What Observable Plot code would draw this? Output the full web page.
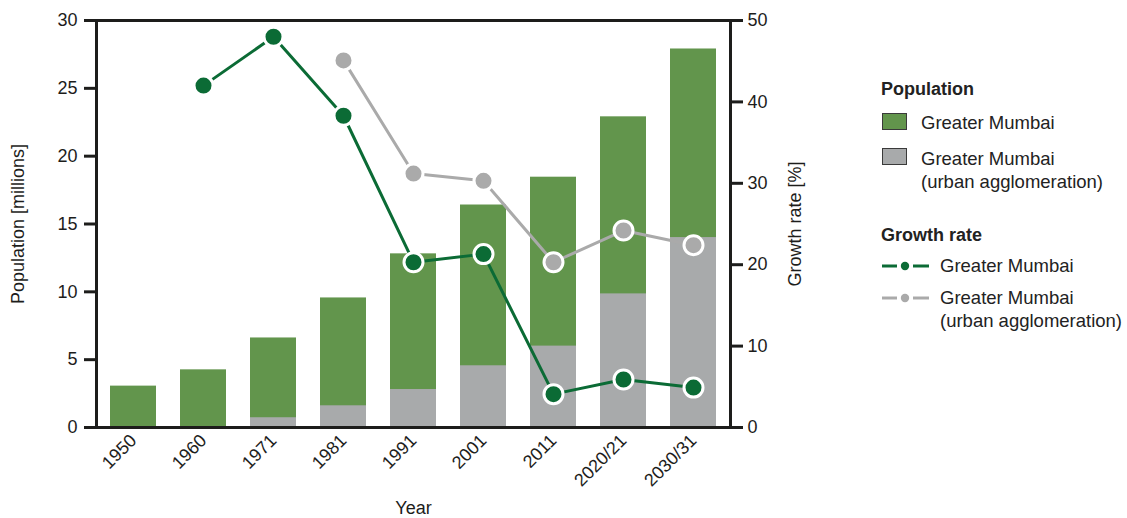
<!DOCTYPE html>
<html>
<head>
<meta charset="utf-8">
<script src="https://cdn.jsdelivr.net/npm/d3@7"></script>
<script src="https://cdn.jsdelivr.net/npm/@observablehq/plot@0.6"></script>
<style>
  html, body { margin: 0; padding: 0; background: #fff; }
  body { width: 1127px; height: 518px; position: relative; overflow: hidden; font-family: "Liberation Sans", Arial, sans-serif; color: #222; }
  #chart { position: absolute; left: 0; top: 0; }
  #chart svg text { font-size: 18px; font-family: "Liberation Sans", Arial, sans-serif; }
  #legend { position: absolute; left: 0; top: 0; width: 1127px; height: 518px; pointer-events: none; }
  .lg { position: absolute; font-size: 18.5px; line-height: 22px; white-space: nowrap; color: #222; }
  .lg.b { font-weight: bold; font-size: 18px; }
  .sw { position: absolute; }
</style>
</head>
<body>
<div id="chart"></div>
<div id="legend"></div>
<script>
const years = ["1950", "1960", "1971", "1981", "1991", "2001", "2011", "2020/21", "2030/31"];
const popMumbai = [3.05, 4.25, 6.6, 9.55, 12.8, 16.4, 18.45, 22.9, 27.9];
const popUA = [0, 0, 0.72, 1.6, 2.8, 4.55, 6.0, 9.85, 14.0];
const growthMumbai = [null, 42.0, 48.0, 38.3, 20.3, 21.3, 4.1, 5.9, 4.9];
const growthUA = [null, null, null, 45.1, 31.2, 30.3, 20.3, 24.2, 22.4];
const popTicks = [0, 5, 10, 15, 20, 25, 30];
const growthTicks = [0, 10, 20, 30, 40, 50];

const GREEN_BAR = "#62954c";
const GREY_BAR = "#a8aaab";
const GREEN_LINE = "#0b6b35";
const GREY_LINE = "#aaaaaa";
const INK = "#1d1d1b";

const k = 30 / 50; // growth [%] -> population axis units
const rows = years.map((year, i) => ({year, total: popMumbai[i], ua: popUA[i], g: growthMumbai[i], gua: growthUA[i]}));
const gRows = rows.filter(d => d.g != null);
const guaRows = rows.filter(d => d.gua != null);

const chart = Plot.plot({
  width: 830,
  height: 518,
  marginLeft: 96,
  marginRight: 100,
  marginTop: 20,
  marginBottom: 91,
  style: {fontFamily: "'Liberation Sans', Arial, sans-serif", fontSize: "18px", color: INK, background: "transparent"},
  x: {domain: years, paddingInner: 0.35, paddingOuter: 0.175},
  y: {domain: [0, 30]},
  marks: [
    Plot.barY(rows, {x: "year", y: "total", fill: GREEN_BAR}),
    Plot.barY(rows.filter(d => d.ua > 0), {x: "year", y: "ua", fill: GREY_BAR}),
    Plot.frame({stroke: INK, strokeWidth: 3}),
    Plot.axisX({tickSize: 0, tickPadding: 10, tickRotate: -45, label: "Year", labelAnchor: "center", labelOffset: 86, labelArrow: "none"}),
    Plot.axisY({ticks: popTicks, tickSize: 12, tickPadding: 7, strokeWidth: 3, stroke: INK, label: "Population [millions]", labelAnchor: "center", labelOffset: 85, labelArrow: "none"}),
    Plot.axisY({anchor: "right", ticks: growthTicks.map(d => d * k), tickFormat: d => Math.round(d / k), tickSize: 12, tickPadding: 5, strokeWidth: 3, stroke: INK, label: "Growth rate [%]", labelAnchor: "center", labelOffset: 70, labelArrow: "none"}),
    Plot.lineY(guaRows, {x: "year", y: d => d.gua * k, stroke: GREY_LINE, strokeWidth: 3}),
    Plot.dot(guaRows, {x: "year", y: d => d.gua * k, r: 9.5, fill: GREY_LINE, stroke: "white", strokeWidth: 3}),
    Plot.lineY(gRows, {x: "year", y: d => d.g * k, stroke: GREEN_LINE, strokeWidth: 3}),
    Plot.dot(gRows, {x: "year", y: d => d.g * k, r: 9.5, fill: GREEN_LINE, stroke: "white", strokeWidth: 3})
  ]
});
document.getElementById("chart").appendChild(chart);

// Legend (HTML beside the chart)
const legendTitles = ["Population", "Growth rate"];
const legendLabels = ["Greater Mumbai", "Greater Mumbai", "(urban agglomeration)"];
function rectSwatch(color, x, y) {
  return `<svg class="sw" style="left:${x}px;top:${y}px" width="25" height="17"><rect x="0.5" y="0.5" width="24" height="16" fill="${color}" stroke="#3a3a3a" stroke-width="1"/></svg>`;
}
function lineSwatch(color, x, cy) {
  return `<svg class="sw" style="left:${x}px;top:${cy - 6}px" width="48" height="12"><line x1="0" x2="15" y1="6" y2="6" stroke="${color}" stroke-width="3"/><line x1="31" x2="47" y1="6" y2="6" stroke="${color}" stroke-width="3"/><circle cx="23" cy="6" r="4.2" fill="${color}"/></svg>`;
}
function txt(s, x, cy, bold) {
  return `<div class="lg${bold ? " b" : ""}" style="left:${x}px;top:${cy - 11}px">${s}</div>`;
}
document.getElementById("legend").innerHTML =
  txt(legendTitles[0], 881, 89, true) +
  rectSwatch(GREEN_BAR, 882, 113) + txt(legendLabels[0], 921, 123) +
  rectSwatch(GREY_BAR, 882, 148) + txt(legendLabels[1], 921, 159) + txt(legendLabels[2], 921, 182) +
  txt(legendTitles[1], 881, 235, true) +
  lineSwatch(GREEN_LINE, 882, 266) + txt(legendLabels[0], 940, 266) +
  lineSwatch(GREY_LINE, 882, 298) + txt(legendLabels[1], 940, 298) + txt(legendLabels[2], 940, 321);
</script>
</body>
</html>
